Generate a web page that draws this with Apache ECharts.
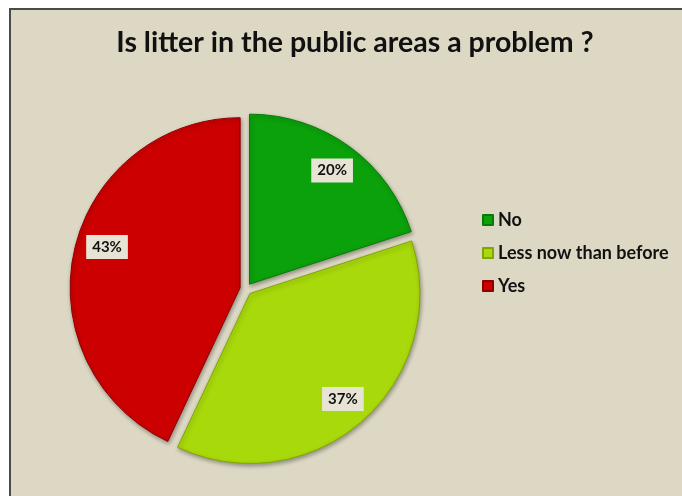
<!DOCTYPE html>
<html>
<head>
<meta charset="utf-8">
<script src="https://cdn.jsdelivr.net/npm/echarts@6/dist/echarts.min.js"></script>
<style>
  html, body { margin: 0; padding: 0; background: #ffffff; overflow: hidden; }
  #frame {
    position: absolute; left: 9px; top: 8px; width: 700px; height: 520px;
    background: #ddd8c4; border: 2px solid #4a4a4a; box-sizing: border-box;
  }
  #main { position: absolute; left: 0; top: 0; width: 682px; height: 496px; }
</style>
</head>
<body>
<div id="frame"></div>
<div id="main"></div>
<script>
// answers to the survey question
var categories = ['No', 'Less now than before', 'Yes'];
var shares = [20, 37, 43];
var sliceColors = ['#0ba10b', '#a8d90a', '#cc0000'];
var edgeColors = ['#077a07', '#7fa606', '#8c0000'];

var chartDom = document.getElementById('main');
var myChart = echarts.init(chartDom);

var pieData = categories.map(function (name, i) {
    return {
        name: name,
        value: shares[i],
        selected: true,
        itemStyle: { color: sliceColors[i], borderColor: edgeColors[i] }
    };
});

// same slices again, invisible, only to carry the labels further out
var labelData = categories.map(function (name, i) {
    return { name: name, value: shares[i], selected: true };
});

var option = {
    animation: false,
    backgroundColor: 'transparent',
    title: {
        text: 'Is litter in the public areas a problem ?',
        left: 350,
        top: 23,
        textAlign: 'center',
        textStyle: {
            fontFamily: 'Lato',
            fontWeight: 'bold',
            fontSize: 28.5,
            color: '#111111'
        }
    },
    legend: {
        orient: 'vertical',
        left: 482,
        top: 210,
        padding: 0,
        itemWidth: 10,
        itemHeight: 10,
        itemGap: 13,
        icon: 'rect',
        selectedMode: false,
        data: categories,
        textStyle: {
            fontFamily: 'Lato',
            fontWeight: 'bold',
            fontSize: 18,
            lineHeight: 20,
            color: '#111111'
        }
    },
    series: [
        {
            name: 'litter',
            type: 'pie',
            center: [246, 289],
            radius: [0, 170],
            startAngle: 90,
            clockwise: true,
            selectedMode: 'multiple',
            selectedOffset: 6,
            silent: true,
            label: { show: false },
            labelLine: { show: false },
            itemStyle: {
                borderWidth: 1,
                shadowBlur: 4,
                shadowOffsetX: 1,
                shadowOffsetY: 2,
                shadowColor: 'rgba(0,0,0,0.35)'
            },
            data: pieData
        },
        {
            name: 'labels',
            type: 'pie',
            center: [246, 289],
            radius: [105, 170],
            startAngle: 90,
            clockwise: true,
            selectedMode: 'multiple',
            selectedOffset: 6,
            silent: true,
            itemStyle: { color: 'transparent', borderWidth: 0 },
            labelLine: { show: false },
            label: {
                show: true,
                position: 'inside',
                formatter: '{d}%',
                fontFamily: 'Lato',
                fontWeight: 'bold',
                fontSize: 15,
                color: '#111111',
                backgroundColor: '#e8e4d5',
                padding: [5, 6, 4, 6]
            },
            // excel nudged the big slice's label a bit upwards
            labelLayout: function (params) {
                if (params.dataIndex === 2) {
                    return { dx: 4, dy: -10 };
                }
                return {};
            },
            data: labelData
        }
    ]
};

option && myChart.setOption(option);
</script>
</body>
</html>
